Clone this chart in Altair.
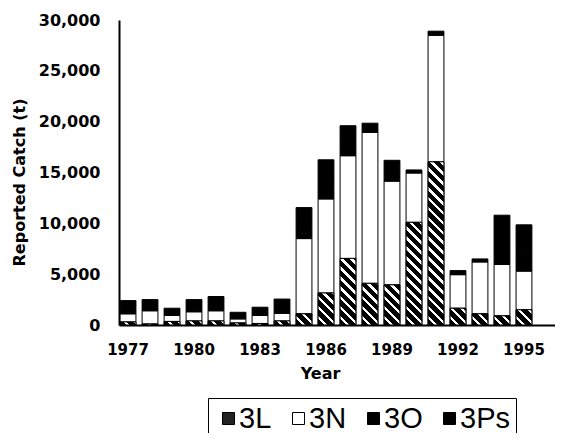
import math
import altair as alt
import pandas as pd

years = list(range(1977, 1996))
areas = ["3L", "3N", "3O", "3Ps"]
catch_3L = [300, 100, 350, 400, 400, 200, 150, 400, 1100, 3150, 6550, 4100, 3950, 10100, 16050, 1650, 1100, 900, 1500]
catch_3N = [800, 1300, 600, 900, 1000, 400, 800, 750, 7400, 9250, 10100, 14850, 10200, 4850, 12450, 3300, 5100, 5050, 3800]
catch_3O = [600, 500, 300, 600, 700, 300, 400, 700, 1500, 2050, 1500, 450, 1000, 150, 200, 200, 150, 2400, 2150]
catch_3Ps = [700, 600, 400, 600, 700, 350, 400, 700, 1550, 1800, 1450, 450, 1050, 150, 200, 200, 150, 2450, 2400]
year_domain = years + [1996]
tick_years = [1977, 1980, 1983, 1986, 1989, 1992, 1995]
y_ticks = [0, 5000, 10000, 15000, 20000, 25000, 30000]

W, H = 436, 305
P_IN, P_OUT = 0.28, 0.05
YMAX = 30000

series = {"3L": catch_3L, "3N": catch_3N, "3O": catch_3O, "3Ps": catch_3Ps}
rows = []
for k, a in enumerate(areas):
    for yr, v in zip(years, series[a]):
        rows.append({"Year": yr, "Area": a, "Catch": v, "ord": k})
df = pd.DataFrame(rows)

# diagonal hatch fill for 3L, built as a striped linear gradient
step = W / (len(year_domain) - P_IN + 2 * P_OUT)
bw = step * (1 - P_IN)


def hatch(v):
    h = max(v * H / YMAX, 0.5)
    w = bw
    k = (w + h) * h / (h * h + w * w)
    n = max(1.0, (w + h) / (math.sqrt(2) * 7.0))
    dt = 1.0 / n
    stops = []
    t = 0.0
    while t < 1 - 1e-9:
        b = min(t + 0.62 * dt, 1.0)
        c = min(t + dt, 1.0)
        stops += [{"offset": t, "color": "#000"}, {"offset": b, "color": "#000"}]
        if b < 1.0:
            stops += [{"offset": b, "color": "#fff"}, {"offset": c, "color": "#fff"}]
        t += dt
    return {"gradient": "linear", "x1": 0, "y1": 1, "x2": k * w / h, "y2": 1 - k, "stops": stops}


hatch_rows = [{"Year": yr, "Catch3L": v, "grad": hatch(v)} for yr, v in zip(years, catch_3L)]

x_enc = alt.X(
    "Year:O",
    scale=alt.Scale(domain=year_domain, paddingInner=P_IN, paddingOuter=P_OUT),
    axis=alt.Axis(
        values=tick_years, labelAngle=0, ticks=False, labelPadding=17,
        labelFont="DejaVu Sans", labelFontWeight="bold", labelFontSize=15, labelColor="black",
        title="Year", titleFont="DejaVu Sans", titleFontWeight="bold", titleFontSize=16,
        titleColor="black", titleX=201, titleY=40, titleBaseline="top", titleAlign="center",
        domainColor="black", domainWidth=2,
    ),
)

bars = alt.Chart(df).mark_bar(stroke="black", strokeWidth=1).encode(
    x=x_enc,
    y=alt.Y(
        "Catch:Q", stack="zero",
        scale=alt.Scale(domain=[0, YMAX], nice=False),
        axis=alt.Axis(
            values=y_ticks, format=",d", ticks=False, grid=False, labelPadding=19,
            labelFont="DejaVu Sans", labelFontWeight="bold", labelFontSize=16, labelColor="black",
            title="Reported Catch (t)", titleFont="DejaVu Sans", titleFontWeight="bold",
            titleFontSize=16, titleColor="black", titleX=-92, titleY=162, titleAngle=-90,
            titleAlign="center", titleBaseline="bottom",
            domainColor="black", domainWidth=2,
        ),
    ),
    color=alt.Color(
        "Area:N", sort=areas,
        scale=alt.Scale(domain=areas, range=["#222222", "#ffffff", "#000000", "#000000"]),
        legend=alt.Legend(
            title=None, orient="none", legendX=89, legendY=378, direction="horizontal",
            columns=4, gridAlign="none", strokeColor="black", padding=6,
            labelFont="Liberation Sans", labelFontSize=29, labelColor="black",
            labelOffset={"expr": "-4"}, columnPadding=12, symbolType="square", symbolSize=144,
            symbolStrokeColor="black", symbolStrokeWidth=1, symbolOpacity=1,
        ),
    ),
    order=alt.Order("ord:Q", sort="ascending"),
)

hatched = alt.Chart(alt.Data(values=hatch_rows)).mark_bar(stroke="black", strokeWidth=1).encode(
    x=alt.X("Year:O"),
    y=alt.Y("Catch3L:Q", stack=None),
    fill=alt.Fill("grad:N", scale=None),
)

chart = alt.layer(bars, hatched).properties(
    width=W, height=H,
    autosize=alt.AutoSizeParams(type="none"),
    padding={"left": 111, "top": 12, "right": 0, "bottom": 108},
    background="white",
).configure_view(stroke=None)

chart.save("out.html", embed_options={"renderer": "svg", "actions": False})
